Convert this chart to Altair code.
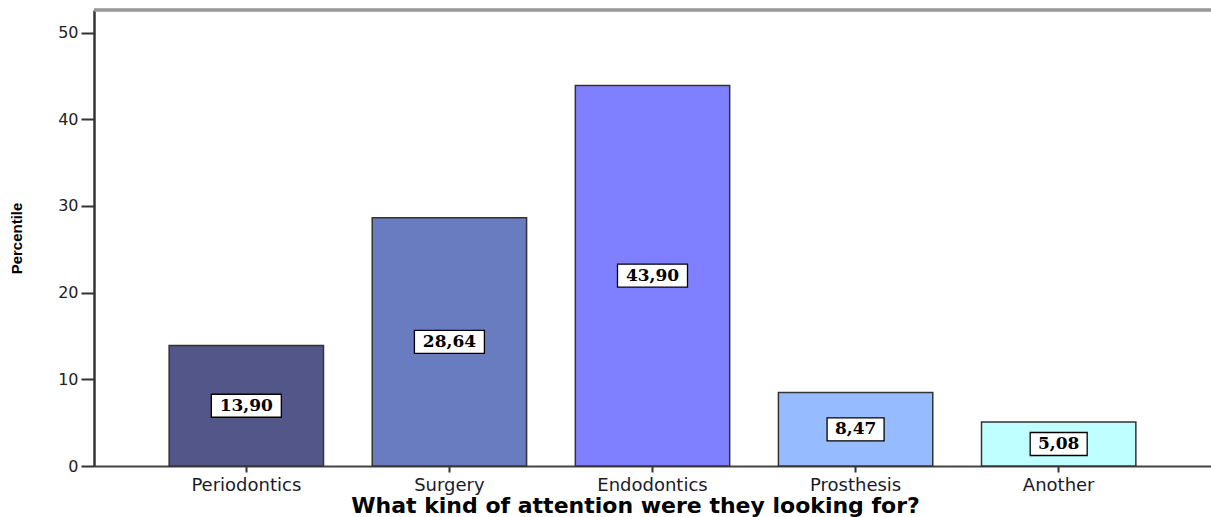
import altair as alt
import pandas as pd

categories = ["Periodontics", "Surgery", "Endodontics", "Prosthesis", "Another"]
values = [13.90, 28.64, 43.90, 8.47, 5.08]
colors = ["#525689", "#6A7CC0", "#7F80FF", "#96BBFF", "#BFFFFF"]
y_ticks = [0, 10, 20, 30, 40, 50]

df = pd.DataFrame({"category": categories, "value": values})

W, H = 1117, 456

x_enc = alt.X(
    "category:N",
    sort=categories,
    scale=alt.Scale(paddingInner=0.24, paddingOuter=0.37),
    axis=alt.Axis(
        title="What kind of attention were they looking for?",
        labelAngle=0,
        labelFont="DejaVu Sans",
        labelFontSize=18,
        labelColor="#1a1a2a",
        labelPadding=4,
        tickSize=6,
        tickColor="#333",
        tickWidth=2,
        domainColor="#444",
        domainWidth=2,
        titleFont="DejaVu Sans",
        titleFontSize=22,
        titleFontWeight="bold",
        titleColor="black",
        titlePadding=1,
        titleX=541,
    ),
)

y_scale = alt.Scale(domain=[0, 52.6], nice=False, zero=True)
y_enc = alt.Y(
    "value:Q",
    scale=y_scale,
    axis=alt.Axis(
        values=y_ticks,
        grid=False,
        title="Percentile",
        labelFont="DejaVu Sans",
        labelFontSize=16,
        labelColor="#222",
        labelPadding=3,
        tickSize=13,
        tickColor="#333",
        tickWidth=2,
        domainColor="#333",
        domainWidth=2.5,
        titleFont="Liberation Sans",
        titleFontSize=15,
        titleFontWeight="bold",
        titleColor="black",
        titlePadding=33,
    ),
)

base = alt.Chart(df)

bars = base.mark_bar(stroke="#333", strokeWidth=1.5).encode(
    x=x_enc,
    y=y_enc,
    color=alt.Color(
        "category:N",
        scale=alt.Scale(domain=categories, range=colors),
        legend=None,
    ),
)

path_long = "M-35,-11.5L35,-11.5L35,11.5L-35,11.5Z"
path_short = "M-28.5,-11.5L28.5,-11.5L28.5,11.5L-28.5,11.5Z"

lab = base.transform_calculate(
    mid="datum.value / 2",
    label="replace(format(datum.value, '.2f'), '.', ',')",
)

boxes = lab.mark_point(
    fill="white", stroke="black", strokeWidth=1.3, size=4, opacity=1, fillOpacity=1
).encode(
    x=alt.X("category:N", sort=categories),
    y=alt.Y("mid:Q", scale=y_scale),
    shape=alt.condition(
        "length(datum.label) > 4", alt.value(path_long), alt.value(path_short)
    ),
)

texts = lab.mark_text(
    font="DejaVu Serif", fontWeight="bold", fontSize=17, color="black", baseline="middle"
).encode(
    x=alt.X("category:N", sort=categories),
    y=alt.Y("mid:Q", scale=y_scale),
    text="label:N",
)

top_line = alt.Chart(df).mark_rule(stroke="#999", strokeWidth=2.5).encode(
    x=alt.value(0), x2=alt.value(W), y=alt.value(0)
)

chart = (
    alt.layer(bars, boxes, texts, top_line)
    .properties(
        width=W,
        height=H,
        autosize=alt.AutoSizeParams(type="none"),
        padding={"left": 94, "top": 10, "right": 0, "bottom": 51},
        background="white",
    )
    .configure_view(stroke=None)
)

chart.save("out.html", embed_options={"renderer": "svg", "actions": False})
